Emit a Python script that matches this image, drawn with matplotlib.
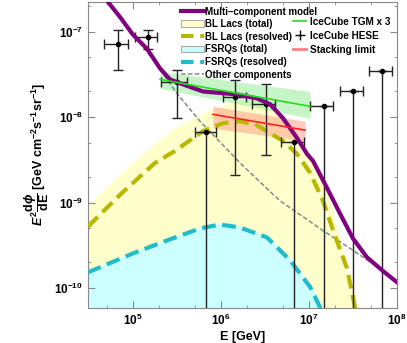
import matplotlib
matplotlib.use('Agg')
import matplotlib.pyplot as plt
import numpy as np
from matplotlib.lines import Line2D
from matplotlib.patches import Patch

plt.rcParams['font.family'] = ['Liberation Sans', 'DejaVu Sans']
plt.rcParams['font.weight'] = 'bold'
plt.rcParams['mathtext.fontset'] = 'custom'
plt.rcParams['mathtext.rm'] = 'Liberation Sans:bold'
plt.rcParams['mathtext.it'] = 'Liberation Sans:italic:bold'
plt.rcParams['mathtext.bf'] = 'Liberation Sans:bold'

# multi-component model
model_E = [4.22e4, 7.11e4, 1e5, 1.44e5, 2.03e5, 2.63e5, 3.70e5, 6.24e5, 1.52e6, 2.56e6, 3.61e6,
           5.07e6, 7.31e6, 9.48e6, 1.11e7, 1.60e7, 2.25e7, 3.16e7, 4.56e7, 6.76e7, 1e8]
model_F = [2.92e-7, 1.49e-7, 9.23e-8, 6.34e-8, 3.72e-8, 2.77e-8, 2.42e-8, 2.00e-8, 1.85e-8, 1.66e-8, 1.42e-8,
           9.72e-9, 5.70e-9, 3.72e-9, 3.08e-9, 1.49e-9, 7.45e-10, 3.81e-10, 2.29e-10, 1.62e-10, 1.17e-10]

# other components
other_E = [4.22e4, 7.11e4, 1e5, 1.44e5, 2.31e5, 3.16e5, 5.77e5, 1.78e6, 4.68e6, 1.44e7, 3.16e7, 6.76e7, 1e8]
other_F = [2.92e-7, 1.49e-7, 9.23e-8, 5.85e-8, 3.00e-8, 1.90e-8, 8.97e-9, 2.69e-9, 1.05e-9, 4.72e-10,
           2.77e-10, 1.62e-10, 1.17e-10]

# BL Lacs total (upper edge of band)
bll_tot_E = [3.08e4, 1.14e5, 3.00e5, 7.11e5, 1.26e6, 2.14e6, 3.61e6, 6.08e6, 8.55e6, 1.11e7, 1.44e7,
             1.82e7, 2.25e7, 2.77e7, 3.51e7, 3.98e7]
bll_tot_F = [9.23e-10, 3.33e-9, 7.45e-9, 1.17e-8, 1.46e-8, 1.53e-8, 1.42e-8, 8.97e-9, 5.26e-9, 3.25e-9,
             1.90e-9, 9.23e-10, 3.92e-10, 1.62e-10, 5.85e-11, 3.2e-11]

# BL Lacs resolved
bll_res_E = [3.08e4, 7.31e4, 1.78e5, 3.00e5, 6.24e5, 1.05e6, 1.64e6, 2.43e6, 3.61e6, 5.07e6, 7.31e6,
             1.03e7, 1.44e7, 1.97e7, 2.70e7, 3.33e7, 3.6e7]
bll_res_F = [5.26e-10, 1.27e-9, 2.92e-9, 4.03e-9, 6.87e-9, 8.51e-9, 8.97e-9, 8.30e-9, 6.52e-9, 5.26e-9,
             3.72e-9, 2.23e-9, 1.05e-9, 4.13e-10, 1.71e-10, 6.01e-11, 3.7e-11]

# FSRQs total and resolved
fsrq_E = [3.08e4, 1e5, 2.43e5, 5.77e5, 9.75e5, 1.64e6, 3.33e6, 6.08e6, 1.03e7, 1.33e7, 1.44e7]
fsrq_tot_F = [1.60e-10, 2.66e-10, 3.76e-10, 5.2e-10, 5.78e-10, 5.35e-10, 4.1e-10, 2.25e-10, 1.12e-10,
              6.7e-11, 4.8e-11]
fsrq_res_F = [1.53e-10, 2.55e-10, 3.61e-10, 4.99e-10, 5.55e-10, 5.12e-10, 3.92e-10, 2.12e-10, 1.03e-10,
              6.01e-11, 4.3e-11]

# IceCube TGM x 3 (line + band)
tgm_E = [2.03e5, 1.03e7]
tgm_F = [2.77e-8, 1.34e-8]
tgm_hi = [3.43e-8, 2.0e-8]
tgm_lo = [2.17e-8, 9.72e-9]

# stacking limit (line + band)
stack_E = [8.11e5, 9.02e6]
stack_F = [1.08e-8, 7.06e-9]
stack_hi = [1.34e-8, 8.97e-9]
stack_lo = [7.45e-9, 5.26e-9]

# IceCube HESE points (0 in lo means the bar goes down to zero)
hese_E = [6.76e4, 1.48e5, 3.16e5, 6.76e5, 1.44e6, 3.24e6, 6.76e6, 1.48e7, 3.16e7, 6.76e7]
hese_Elo = [4.68e4, 1.05e5, 2.08e5, 5.07e5, 1.05e6, 2.25e6, 4.81e6, 1.03e7, 2.25e7, 4.81e7]
hese_Ehi = [8.77e4, 1.87e5, 4.11e5, 8.77e5, 1.92e6, 4.11e6, 8.77e6, 1.87e7, 4.11e7, 8.77e7]
hese_F = [7.24e-8, 8.75e-8, 2.55e-8, 6.7e-9, 1.71e-8, 1.42e-8, 5.12e-9, 1.34e-8, 2.0e-8, 3.43e-8]
hese_lo = [3.61e-8, 6.34e-8, 9.73e-9, 0, 2.12e-9, 3.61e-9, 0, 0, 0, 0]
hese_hi = [1.05e-7, 1.05e-7, 3.61e-8, 6.7e-9, 2.69e-8, 2.42e-8, 5.12e-9, 1.34e-8, 2.0e-8, 3.43e-8]

xticks = [1e5, 1e6, 1e7, 1e8]
yticks = [1e-10, 1e-9, 1e-8, 1e-7]

fig = plt.figure(figsize=(4.07, 3.43), dpi=100)
ax = fig.add_axes([88/407, 35/343, 309/407, 306/343])

ax.fill_between(bll_tot_E, 1e-13, bll_tot_F, color='#ffffcc', lw=0, zorder=1)
ax.fill_between(fsrq_E, 1e-13, fsrq_tot_F, color='#ccffff', lw=0, zorder=1.1)
ax.fill_between(tgm_E, tgm_lo, tgm_hi, color='#99ee99', alpha=0.55, lw=0, zorder=1.2)
ax.fill_between(stack_E, stack_lo, stack_hi, color='#ff9980', alpha=0.5, lw=0, zorder=1.2)

ax.plot(other_E, other_F, color='#888888', lw=1.1, ls=(0, (3, 1.5)), zorder=2)
ax.plot(bll_res_E, bll_res_F, color='#b8b800', lw=3, ls=(0, (3.3, 1.6)), zorder=3)
ax.plot(fsrq_E, fsrq_res_F, color='#22bbcc', lw=3, ls=(0, (3.3, 1.6)), zorder=3)

F = np.array(hese_F)
lo = np.where(np.array(hese_lo) > 0, hese_lo, 1e-13)
yerr = [F - lo, np.array(hese_hi) - F]
xerr = [np.array(hese_E) - np.array(hese_Elo), np.array(hese_Ehi) - np.array(hese_E)]
ax.errorbar(hese_E, hese_F, xerr=xerr, yerr=yerr, fmt='o', ms=3, color='black',
            ecolor='#222222', elinewidth=1.0, capsize=3.5, capthick=1.0, zorder=4)

ax.plot(model_E, model_F, color='#800080', lw=3, zorder=5)
ax.plot(tgm_E, tgm_F, color='#22dd22', lw=1.2, zorder=5)
ax.plot(stack_E, stack_F, color='#ff2020', lw=1.2, zorder=5)

ax.set_xscale('log')
ax.set_yscale('log')
ax.set_xlim(3.08e4, 1e8)
ax.set_ylim(5.85e-11, 2.23e-7)
ax.set_xticks(xticks)
ax.set_yticks(yticks)
ax.xaxis.set_minor_locator(matplotlib.ticker.LogLocator(base=10, subs=(2, 5), numticks=10))
ax.yaxis.set_minor_locator(matplotlib.ticker.LogLocator(base=10, subs=(2, 5), numticks=10))
ax.xaxis.set_minor_formatter(matplotlib.ticker.NullFormatter())
ax.yaxis.set_minor_formatter(matplotlib.ticker.NullFormatter())
ax.tick_params(which='both', direction='in', top=True, right=True, color='#888888', labelsize=8.5)
ax.tick_params(which='major', length=5)
ax.tick_params(which='minor', length=2.5)
for s in ax.spines.values():
    s.set_color('#888888')

ax.set_xlabel('E [GeV]', fontsize=9, fontweight='bold', labelpad=2)
ax.set_ylabel(r'$\mathit{E}^2\dfrac{\mathrm{d}\phi}{\mathrm{dE}}$ [GeV cm$^{-2}$s$^{-1}$sr$^{-1}$]',
              fontsize=9, fontweight='bold', labelpad=2)

h1 = [Line2D([], [], color='#800080', lw=3),
      Patch(facecolor='#ffffcc', edgecolor='#aaaaaa', lw=0.8),
      Line2D([], [], color='#b8b800', lw=3, ls=(0, (3, 1.6))),
      Patch(facecolor='#ccffff', edgecolor='#aaaaaa', lw=0.8),
      Line2D([], [], color='#22bbcc', lw=3, ls=(0, (3, 1.6))),
      Line2D([], [], color='#888888', lw=1.1, ls=(0, (3, 1.5)))]
l1 = ['Multi\u2013component model', 'BL Lacs (total)', 'BL Lacs (resolved)', 'FSRQs (total)',
      'FSRQs (resolved)', 'Other components']
leg1 = ax.legend(h1, l1, loc='upper left', bbox_to_anchor=(0.30, 0.985), frameon=False, fontsize=7.0,
                 handlelength=2.4, handletextpad=0.15, labelspacing=0.27, borderpad=0, borderaxespad=0)
ax.add_artist(leg1)

h2 = [Line2D([], [], color='#22dd22', lw=1.2),
      Line2D([], [], color='black', marker='+', ls='none', ms=7),
      Line2D([], [], color='#ff8080', lw=2)]
l2 = ['IceCube TGM x 3', 'IceCube HESE', 'Stacking limit']
ax.legend(h2, l2, loc='upper left', bbox_to_anchor=(0.665, 0.952), frameon=False, fontsize=7.2,
          handlelength=1.3, handletextpad=0.4, labelspacing=0.4, borderpad=0, borderaxespad=0)

fig.savefig('out.png', dpi=100)
